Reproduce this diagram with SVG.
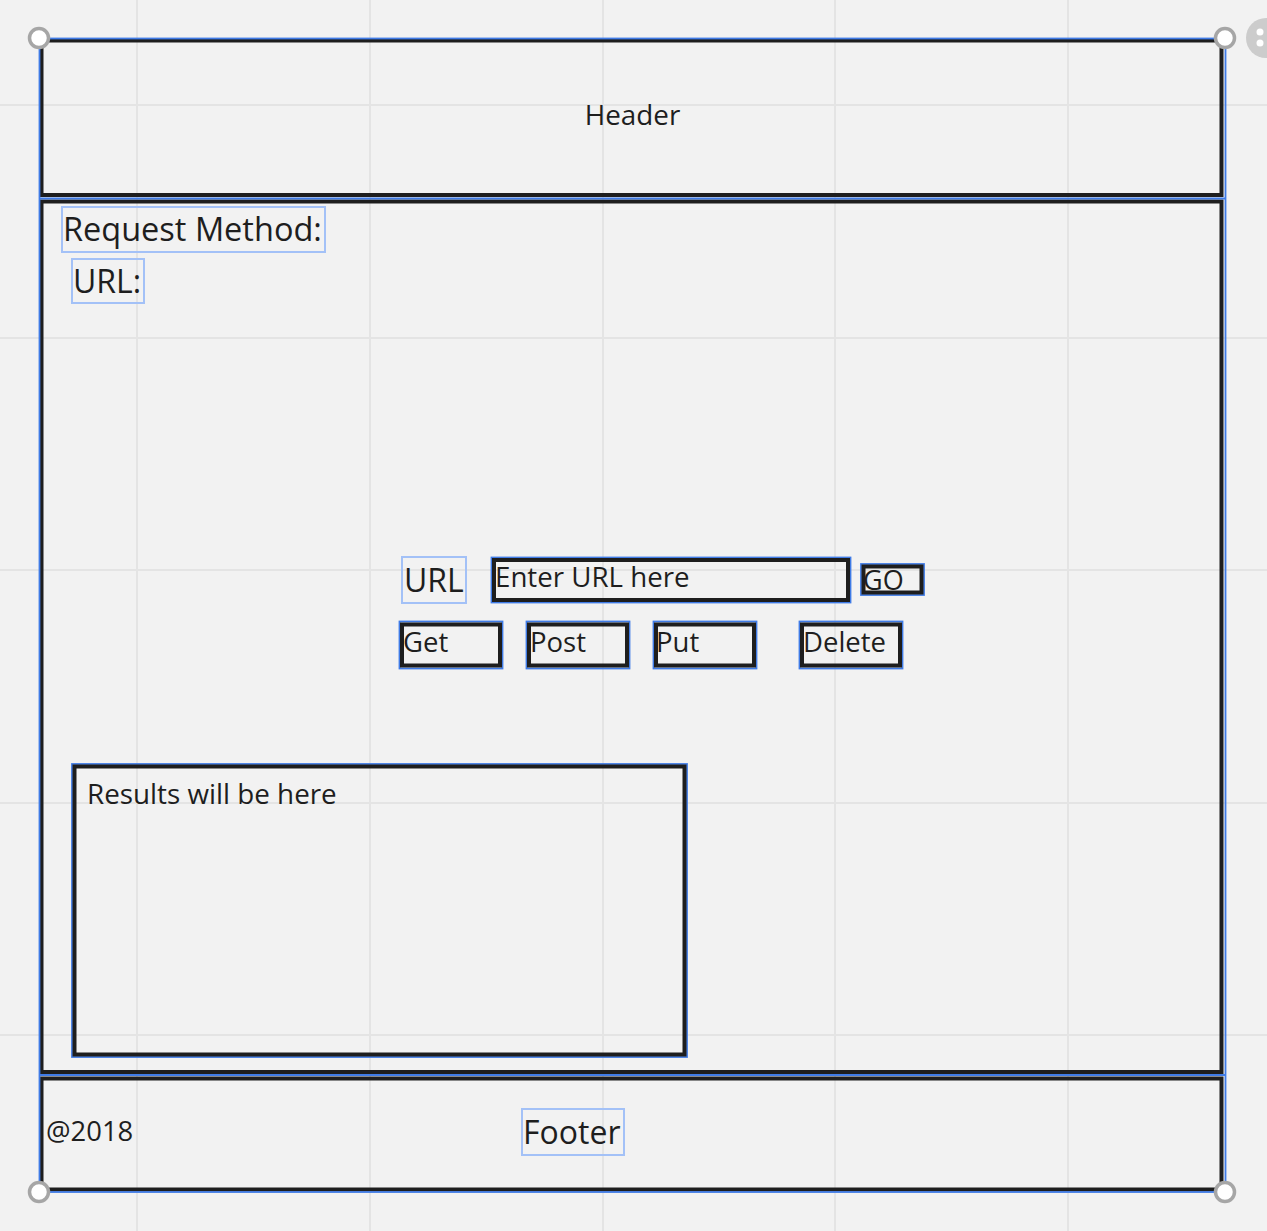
<svg xmlns="http://www.w3.org/2000/svg" width="1267" height="1231" viewBox="0 0 1267 1231">
<style>
.grid{stroke:#e4e4e4;stroke-width:2;fill:none}
.frame{fill:none;stroke:#1e1e1e;stroke-width:4}
.sel{fill:none;stroke:#3f7be6;stroke-width:1.8}
.tsel{fill:none;stroke:#a3c1f7;stroke-width:2}
.t{font-family:"Open Sans","Noto Sans",sans-serif;fill:#1e1e1e}
.handle{fill:#fff;stroke:#a6a6a6;stroke-width:3.5}
</style>
<rect width="1267" height="1231" fill="#f2f2f2"/>
<g id="grid">
<path class="grid" d="M137 0V1231M370 0V1231M603 0V1231M835 0V1231M1068 0V1231M0 105H1267M0 338H1267M0 570H1267M0 803H1267M0 1035H1267"/>
</g>
<g id="header">
<rect class="frame" x="41.5" y="40.5" width="1180" height="154.5"/>
<text class="t" x="632.5" y="125" font-size="27.8" text-anchor="middle">Header</text>
</g>
<g id="body">
<rect class="frame" x="41.5" y="201.5" width="1180" height="870.5"/>
</g>
<g id="footer">
<rect class="frame" x="41.5" y="1078.5" width="1180" height="111"/>
</g>
<g id="request-method">
<rect class="tsel" x="62" y="207" width="263" height="45"/>
<text class="t" x="63" y="241" font-size="32.5">Request Method:</text>
</g>
<g id="url-label">
<rect class="tsel" x="72" y="259" width="72" height="44"/>
<text class="t" x="73" y="293" font-size="32">URL:</text>
</g>
<g id="url-text">
<rect class="tsel" x="402" y="557" width="64" height="46"/>
<text class="t" x="404" y="592" font-size="32">URL</text>
</g>
<g id="url-input">
<rect class="sel" x="491.5" y="557.5" width="359" height="45"/>
<rect class="frame" x="494" y="560" width="354" height="40"/>
<text class="t" x="495" y="587" font-size="27.7">Enter URL here</text>
</g>
<g id="go">
<rect class="sel" x="861" y="564" width="63" height="31"/>
<rect class="frame" x="863.5" y="566.5" width="58" height="26"/>
<text class="t" x="863" y="590" font-size="27">GO</text>
</g>
<g id="get">
<rect class="sel" x="399.5" y="621.5" width="103" height="47"/>
<rect class="frame" x="402" y="624.5" width="98" height="41"/>
<text class="t" x="403" y="652" font-size="27.5">Get</text>
</g>
<g id="post">
<rect class="sel" x="526.5" y="621.5" width="103" height="47"/>
<rect class="frame" x="529" y="624.5" width="98" height="41"/>
<text class="t" x="530" y="652" font-size="27.5">Post</text>
</g>
<g id="put">
<rect class="sel" x="653.5" y="621.5" width="103" height="47"/>
<rect class="frame" x="656" y="624.5" width="98" height="41"/>
<text class="t" x="656" y="652" font-size="27.5">Put</text>
</g>
<g id="delete">
<rect class="sel" x="799.5" y="621.5" width="103" height="47"/>
<rect class="frame" x="802" y="624.5" width="98" height="41"/>
<text class="t" x="803" y="652" font-size="27.5">Delete</text>
</g>
<g id="results">
<rect class="sel" x="72" y="764" width="615" height="293"/>
<rect class="frame" x="74.5" y="766.5" width="610" height="288"/>
<text class="t" x="87" y="804" font-size="27.8">Results will be here</text>
</g>
<g id="copyright">
<text class="t" x="46" y="1141" font-size="27.4">@2018</text>
</g>
<g id="footer-label">
<rect class="tsel" x="522" y="1109" width="102" height="46"/>
<text class="t" x="523" y="1144" font-size="32">Footer</text>
</g>
<g id="selection">
<rect class="sel" x="39.5" y="38.5" width="1186" height="1153.5" stroke-width="2.2"/>
<path class="sel" d="M40 198.5H1225M40 1075H1225"/>
<circle class="handle" cx="39" cy="38" r="9.5"/>
<circle class="handle" cx="1225" cy="38" r="9.5"/>
<circle class="handle" cx="39" cy="1192" r="9.5"/>
<circle class="handle" cx="1225" cy="1192" r="9.5"/>
<circle cx="1266" cy="38" r="20" fill="#cccccc"/>
<circle cx="1260" cy="32" r="3.5" fill="#fff"/>
<circle cx="1260" cy="43" r="3.5" fill="#fff"/>
</g>
</svg>
